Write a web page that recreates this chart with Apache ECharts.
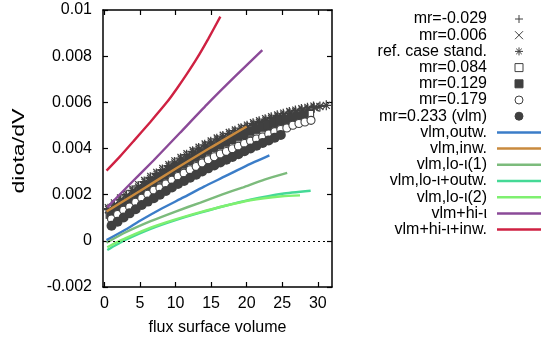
<!DOCTYPE html>
<html><head><meta charset="utf-8">
<script src="https://cdn.jsdelivr.net/npm/echarts@6/dist/echarts.min.js"></script>
<style>html,body{margin:0;padding:0;background:#fff}#c{width:541px;height:342px}</style>
</head><body><div id="c"></div>
<script>
// ---- tick labels ----
const xTicks = [0, 5, 10, 15, 20, 25, 30];
const yTicks = [-0.002, 0, 0.002, 0.004, 0.006, 0.008, 0.01];

// ---- marker series (x: flux surface volume, y: diota/dV) ----
const mrM0029X = [0.5,1.35,2.2,3.05,3.9,4.75,5.6,6.45,7.3,8.15,9.0,9.85,10.7,11.55,12.4,13.25,14.1,14.95,15.8,16.65,17.5,18.35,19.2,20.05,20.9,21.75,22.6,23.45,24.3,25.15,26.0,26.85,27.7,28.55,29.4];
const mrM0029Y = [1.39e-3,1.59e-3,1.80e-3,2.00e-3,2.19e-3,2.38e-3,2.57e-3,2.75e-3,2.92e-3,3.09e-3,3.26e-3,3.42e-3,3.58e-3,3.73e-3,3.88e-3,4.02e-3,4.16e-3,4.29e-3,4.42e-3,4.54e-3,4.66e-3,4.77e-3,4.88e-3,4.99e-3,5.09e-3,5.18e-3,5.27e-3,5.35e-3,5.44e-3,5.51e-3,5.58e-3,5.65e-3,5.71e-3,5.76e-3,5.82e-3];

const mr0006X = [0.7,1.55,2.4,3.25,4.1,4.95,5.8,6.65,7.5,8.35,9.2,10.05,10.9,11.75,12.6,13.45,14.3,15.15,16.0,16.85,17.7,18.55,19.4,20.25,21.1,21.95,22.8,23.65,24.5,25.35,26.2,27.05,27.9,28.75,29.6];
const mr0006Y = [1.39e-3,1.60e-3,1.81e-3,2.00e-3,2.20e-3,2.39e-3,2.57e-3,2.75e-3,2.92e-3,3.09e-3,3.26e-3,3.42e-3,3.57e-3,3.73e-3,3.87e-3,4.01e-3,4.15e-3,4.28e-3,4.41e-3,4.53e-3,4.65e-3,4.76e-3,4.87e-3,4.97e-3,5.07e-3,5.16e-3,5.25e-3,5.33e-3,5.41e-3,5.49e-3,5.56e-3,5.62e-3,5.68e-3,5.74e-3,5.79e-3];

const refX = [0.6,1.4,2.3,3.1,4.0,4.8,5.7,6.5,7.4,8.2,9.1,9.9,10.8,11.6,12.5,13.3,14.2,15.0,15.9,16.7,17.6,18.4,19.3,20.1,21.0,21.8,22.7,23.5,24.4,25.2,26.1,26.9,27.8,28.6,29.5,30.3,31.2];
const refY = [1.35e-3,1.55e-3,1.76e-3,1.95e-3,2.16e-3,2.33e-3,2.53e-3,2.70e-3,2.88e-3,3.04e-3,3.22e-3,3.37e-3,3.54e-3,3.68e-3,3.83e-3,3.97e-3,4.11e-3,4.24e-3,4.37e-3,4.49e-3,4.61e-3,4.72e-3,4.84e-3,4.93e-3,5.04e-3,5.13e-3,5.22e-3,5.30e-3,5.38e-3,5.45e-3,5.53e-3,5.59e-3,5.66e-3,5.71e-3,5.77e-3,5.82e-3,5.87e-3];

const mr0084X = [0.8,1.65,2.5,3.35,4.2,5.05,5.9,6.75,7.6,8.45,9.3,10.15,11.0,11.85,12.7,13.55,14.4,15.25,16.1,16.95,17.8,18.65,19.5,20.35,21.2,22.05,22.9,23.75,24.6,25.45,26.3,27.15,28.0,28.85];
const mr0084Y = [1.15e-3,1.36e-3,1.56e-3,1.76e-3,1.95e-3,2.14e-3,2.32e-3,2.50e-3,2.67e-3,2.84e-3,3.01e-3,3.17e-3,3.32e-3,3.47e-3,3.62e-3,3.76e-3,3.89e-3,4.03e-3,4.15e-3,4.27e-3,4.39e-3,4.50e-3,4.61e-3,4.71e-3,4.81e-3,4.90e-3,4.99e-3,5.07e-3,5.15e-3,5.23e-3,5.30e-3,5.36e-3,5.42e-3,5.47e-3];

const mr0129X = [0.9,1.75,2.6,3.45,4.3,5.15,6.0,6.85,7.7,8.55,9.4,10.25,11.1,11.95,12.8,13.65,14.5,15.35,16.2,17.05,17.9,18.75,19.6,20.45,21.3,22.15,23.0,23.85,24.7,25.55,26.4,27.25,28.1];
const mr0129Y = [1.16e-3,1.36e-3,1.56e-3,1.80e-3,2.00e-3,2.20e-3,2.39e-3,2.55e-3,2.71e-3,2.87e-3,3.04e-3,3.19e-3,3.34e-3,3.48e-3,3.63e-3,3.77e-3,3.92e-3,4.05e-3,4.17e-3,4.29e-3,4.41e-3,4.53e-3,4.64e-3,4.75e-3,4.84e-3,4.94e-3,5.03e-3,5.12e-3,5.19e-3,5.26e-3,5.33e-3,5.40e-3,5.46e-3];

const mr0179X = [1.0,1.85,2.7,3.55,4.4,5.25,6.1,6.95,7.8,8.65,9.5,10.35,11.2,12.05,12.9,13.75,14.6,15.45,16.3,17.15,18.0,18.85,19.7,20.55,21.4,22.25,23.1,23.95,24.8,25.65,26.5,27.35,28.2,29.05];
const mr0179Y = [0.95e-3,1.14e-3,1.33e-3,1.47e-3,1.67e-3,1.85e-3,2.02e-3,2.19e-3,2.29e-3,2.46e-3,2.63e-3,2.79e-3,2.93e-3,3.08e-3,3.22e-3,3.37e-3,3.51e-3,3.64e-3,3.76e-3,3.87e-3,3.99e-3,4.10e-3,4.22e-3,4.32e-3,4.41e-3,4.50e-3,4.63e-3,4.73e-3,4.82e-3,4.89e-3,5.01e-3,5.08e-3,5.15e-3,5.22e-3];

const mr0233X = [1.0,1.85,2.7,3.55,4.4,5.25,6.1,6.95,7.8,8.65,9.5,10.35,11.2,12.05,12.9,13.75,14.6,15.45,16.3,17.15,18.0,18.85,19.7,20.55,21.4,22.25,23.1,23.95,24.8];
const mr0233Y = [0.65e-3,0.83e-3,1.01e-3,1.19e-3,1.37e-3,1.55e-3,1.70e-3,1.85e-3,2.00e-3,2.16e-3,2.31e-3,2.46e-3,2.59e-3,2.73e-3,2.86e-3,3.00e-3,3.14e-3,3.26e-3,3.39e-3,3.51e-3,3.63e-3,3.75e-3,3.88e-3,4.00e-3,4.12e-3,4.24e-3,4.35e-3,4.47e-3,4.59e-3];

// ---- line series ----
const outwX = [0.3, 3, 5, 8, 11.1, 14, 17, 20, 23.2];
const outwY = [0.03e-3, 0.49e-3, 0.87e-3, 1.39e-3, 1.88e-3, 2.35e-3, 2.80e-3, 3.26e-3, 3.70e-3];
const inwX = [0.3, 5, 10, 15, 20];
const inwY = [1.27e-3, 2.16e-3, 3.12e-3, 4.05e-3, 4.95e-3];
const lo1X = [0.3, 3, 6.5, 10, 13.5, 16.5, 19.5, 22.5, 25.7];
const lo1Y = [-0.08e-3, 0.37e-3, 0.85e-3, 1.27e-3, 1.66e-3, 2.00e-3, 2.32e-3, 2.65e-3, 2.94e-3];
const loOutX = [0.4, 1.5, 3, 6.5, 10, 13.5, 17, 20.5, 25, 29];
const loOutY = [-0.40e-3, -0.20e-3, 0.05e-3, 0.52e-3, 0.90e-3, 1.22e-3, 1.52e-3, 1.78e-3, 2.04e-3, 2.17e-3];
const lo2X = [0.4, 1.5, 3, 6.5, 10, 13.5, 17, 20.5, 25, 27.5];
const lo2Y = [-0.28e-3, -0.10e-3, 0.12e-3, 0.57e-3, 0.93e-3, 1.24e-3, 1.52e-3, 1.76e-3, 1.93e-3, 1.97e-3];
const hiX = [0.4, 3.5, 6.9, 10.6, 14.4, 18.3, 22.2];
const hiY = [1.45e-3, 2.43e-3, 3.48e-3, 4.67e-3, 5.90e-3, 7.10e-3, 8.26e-3];
const hiInwX = [0.3, 2.2, 4.1, 6.4, 8.8, 10.2, 11.6, 13.0, 14.6, 16.3];
const hiInwY = [3.04e-3, 3.66e-3, 4.32e-3, 5.13e-3, 6.01e-3, 6.60e-3, 7.23e-3, 7.90e-3, 8.75e-3, 9.71e-3];

// ---- build ----
const FONT = '"Liberation Sans", Arial, Helvetica, sans-serif';
const GRAY = '#404040';
function pts(xs, ys) { return xs.map((x, i) => [x, ys[i]]); }

const SQUARE_ICON = 'path://M0,0H10V10H0Z';
const LINE_ICON = 'path://M0,0H44V2.5H0Z';

// name, xs, ys, symbol, size, fill, legendIcon
const markerDefs = [
  ['mr=-0.029', mrM0029X, mrM0029Y, 'path://M0,5L10,5M5,0L5,10', 10, 'none', null],
  ['mr=0.006', mr0006X, mr0006Y, 'path://M0,0L10,10M0,10L10,0', 9, 'none', null],
  ['ref. case stand.', refX, refY, 'path://M0,5L10,5M5,0L5,10M1.5,1.5L8.5,8.5M1.5,8.5L8.5,1.5', 10, 'none', null],
  ['mr=0.084', mr0084X, mr0084Y, 'rect', 8, '#fff', SQUARE_ICON],
  ['mr=0.129', mr0129X, mr0129Y, 'rect', 9, GRAY, SQUARE_ICON],
  ['mr=0.179', mr0179X, mr0179Y, 'circle', 8, '#fff', null],
  ['mr=0.233 (vlm)', mr0233X, mr0233Y, 'circle', 10, GRAY, null]
];
const lineDefs = [
  ['vlm,outw.', outwX, outwY, '#3b7dc8'],
  ['vlm,inw.', inwX, inwY, '#c98a3e'],
  ['vlm,lo-\u03b9(1)', lo1X, lo1Y, '#7cbb7c'],
  ['vlm,lo-\u03b9+outw.', loOutX, loOutY, '#45d996'],
  ['vlm,lo-\u03b9(2)', lo2X, lo2Y, '#7ff070'],
  ['vlm+hi-\u03b9', hiX, hiY, '#8b4a98'],
  ['vlm+hi-\u03b9+inw.', hiInwX, hiInwY, '#cf2142']
];

const series = [];
markerDefs.forEach(d => {
  const isPath = d[5] === 'none';
  series.push({
    name: d[0], type: 'scatter', data: pts(d[1], d[2]), symbol: d[3], symbolSize: d[4],
    itemStyle: { color: isPath ? GRAY : d[5], borderColor: GRAY, borderWidth: (d[5] === GRAY ? 0 : (isPath ? 1.25 : 1.1)), opacity: 1 },
    silent: true, z: 2
  });
});
lineDefs.forEach((d, i) => {
  const s = {
    name: d[0], type: 'line', data: pts(d[1], d[2]), symbol: 'none', showSymbol: false,
    smooth: 0.2,
    lineStyle: { width: 2.4, color: d[3] }, itemStyle: { color: d[3] },
    silent: true, z: 3
  };
  if (i === 0) {
    s.markLine = {
      silent: true, symbol: ['none', 'none'], label: { show: false },
      lineStyle: { color: '#000', type: [2, 3], width: 1.2 },
      data: [{ yAxis: 0 }]
    };
  }
  series.push(s);
});

const legendData = markerDefs.map(d => {
  const o = { name: d[0], itemStyle: { borderWidth: 1 } };
  if (d[6]) o.icon = d[6];
  return o;
}).concat(lineDefs.map(d => ({ name: d[0], icon: LINE_ICON, itemStyle: { borderWidth: 0 } })));

const axisLine = { show: true, onZero: false, lineStyle: { color: '#000', width: 1.5 } };
const tickStyle = { color: '#000', width: 1.2 };
const fmtY = v => String(+(+v).toFixed(4));

const option = {
  animation: false,
  backgroundColor: '#fff',
  grid: { left: 103, right: 209, top: 10, bottom: 55, containLabel: false },
  xAxis: [
    { type: 'value', position: 'bottom', min: -0.2, max: 32,
      axisLine: axisLine,
      axisTick: { show: true, inside: true, length: 5, customValues: xTicks, lineStyle: tickStyle },
      axisLabel: { customValues: xTicks, fontSize: 16, color: '#000', margin: 9, fontFamily: FONT },
      splitLine: { show: false },
      name: 'flux surface volume', nameLocation: 'middle', nameGap: 33,
      nameTextStyle: { fontSize: 16, color: '#000', fontFamily: FONT } },
    { type: 'value', position: 'top', min: -0.2, max: 32,
      axisLine: axisLine,
      axisTick: { show: true, inside: true, length: 5, customValues: xTicks, lineStyle: tickStyle },
      axisLabel: { show: false }, splitLine: { show: false } }
  ],
  yAxis: [
    { type: 'value', position: 'left', min: -0.002, max: 0.01, interval: 0.002,
      axisLine: axisLine,
      axisTick: { show: true, inside: true, length: 5, customValues: yTicks, lineStyle: tickStyle },
      axisLabel: { customValues: yTicks, fontSize: 16, color: '#000', margin: 11, fontFamily: FONT, formatter: fmtY },
      splitLine: { show: false } },
    { type: 'value', position: 'right', min: -0.002, max: 0.01, interval: 0.002,
      axisLine: axisLine,
      axisTick: { show: true, inside: true, length: 5, customValues: yTicks, lineStyle: tickStyle },
      axisLabel: { show: false }, splitLine: { show: false } }
  ],
  legend: {
    orient: 'vertical', right: 0, top: 11, align: 'right', padding: 0,
    itemWidth: 44, itemHeight: 8, itemGap: 0.2, selectedMode: false,
    textStyle: { fontSize: 16, lineHeight: 16, color: '#000', fontFamily: FONT, padding: [0, 5, 0, 0] },
    data: legendData
  },
  graphic: [
    { type: 'text', x: 20, y: 151, rotation: Math.PI / 2, scaleX: 1.45, silent: true,
      style: { text: 'diota/dV', font: '16px ' + FONT, fill: '#000', align: 'center', verticalAlign: 'middle' } }
  ],
  series: series
};

const chart = echarts.init(document.getElementById('c'), null, { renderer: 'canvas' });
chart.setOption(option);
</script></body></html>
